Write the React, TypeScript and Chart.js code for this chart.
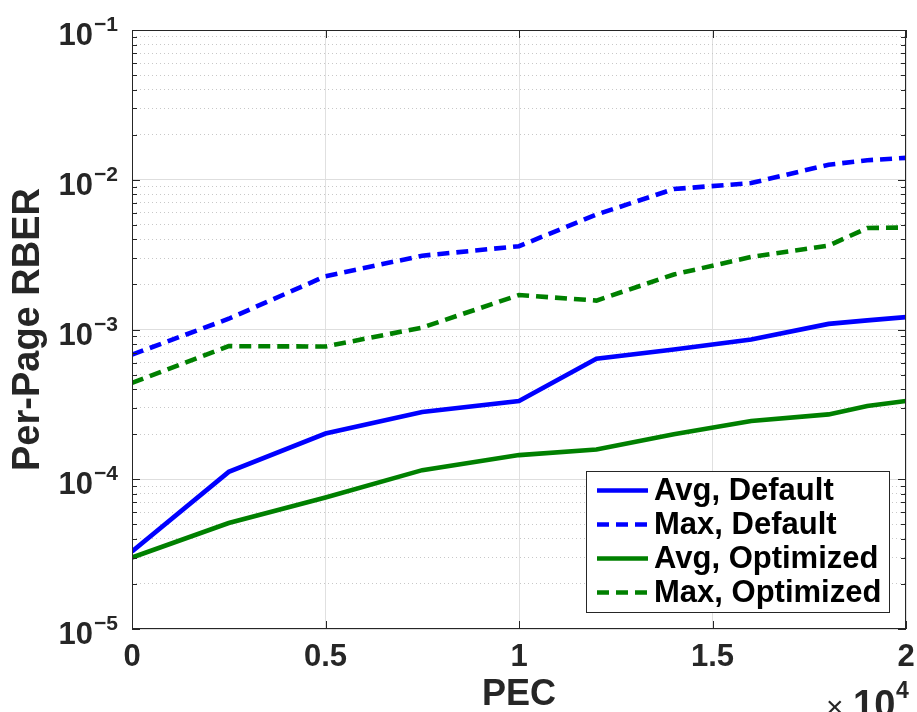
import React, { useEffect, useRef } from 'react';
import { Chart, registerables } from 'chart.js';

Chart.register(...registerables);

// ---- Data ----
const PEC = [0, 2500, 5000, 7500, 10000, 12000, 14000, 16000, 18000, 19000, 20000];
const AVG_DEFAULT = [3.3e-5, 1.12e-4, 2.02e-4, 2.81e-4, 3.33e-4, 6.37e-4, 7.36e-4, 8.58e-4, 1.09e-3, 1.15e-3, 1.21e-3];
const MAX_DEFAULT = [6.8e-4, 1.18e-3, 2.27e-3, 3.11e-3, 3.6e-3, 5.85e-3, 8.67e-3, 9.5e-3, 1.26e-2, 1.35e-2, 1.4e-2];
const AVG_OPTIMIZED = [3.0e-5, 5.1e-5, 7.55e-5, 1.15e-4, 1.45e-4, 1.58e-4, 2.0e-4, 2.45e-4, 2.71e-4, 3.08e-4, 3.33e-4];
const MAX_OPTIMIZED = [4.4e-4, 7.74e-4, 7.7e-4, 1.03e-3, 1.7e-3, 1.56e-3, 2.33e-3, 3.05e-3, 3.63e-3, 4.76e-3, 4.8e-3];

const SERIES_LABELS = ['Avg, Default', 'Max, Default', 'Avg, Optimized', 'Max, Optimized'];

const X_TICKS = [0, 5000, 10000, 15000, 20000];
const X_TICK_LABELS = ['0', '0.5', '1', '1.5', '2'];
const Y_MAJOR = [1e-5, 1e-4, 1e-3, 1e-2, 1e-1];
const Y_EXPONENTS = ['−5', '−4', '−3', '−2', '−1'];
const Y_MINOR_MULTIPLIERS = [2, 3, 4, 5, 6, 7, 8, 9];

const FONT = '"Liberation Sans", Arial, Helvetica, sans-serif';
const TEXT = '#262626';
const BLUE = '#0000ff';
const GREEN = '#008000';
const LINE_W = 4.6;
const DASH = [12, 7];

function isMajorY(v: number) {
  return Y_MAJOR.some((m) => Math.abs(v / m - 1) < 1e-6);
}

const overlayPlugin = {
  id: 'overlay',
  afterDatasetsDraw(chart: any) {
    const { ctx, chartArea: a, scales } = chart;
    const x = scales.x;
    const y = scales.y;
    ctx.save();

    // axes box
    ctx.strokeStyle = TEXT;
    ctx.lineWidth = 1;
    ctx.setLineDash([]);
    ctx.strokeRect(a.left + 0.5, a.top + 0.5, a.right - a.left - 1, a.bottom - a.top - 1);

    // inward tick marks, x
    ctx.beginPath();
    x.ticks.forEach((t: any) => {
      const px = Math.round(x.getPixelForValue(t.value)) + 0.5;
      ctx.moveTo(px, a.bottom);
      ctx.lineTo(px, a.bottom - 8);
      ctx.moveTo(px, a.top);
      ctx.lineTo(px, a.top + 8);
    });
    // inward tick marks, y
    y.ticks.forEach((t: any) => {
      const py = Math.round(y.getPixelForValue(t.value)) + 0.5;
      const len = isMajorY(t.value) ? 8 : 5;
      ctx.moveTo(a.left, py);
      ctx.lineTo(a.left + len, py);
      ctx.moveTo(a.right, py);
      ctx.lineTo(a.right - len, py);
    });
    ctx.stroke();

    // y tick labels 10^n
    ctx.fillStyle = TEXT;
    ctx.textBaseline = 'alphabetic';
    ctx.textAlign = 'right';
    Y_MAJOR.forEach((v, i) => {
      const py = y.getPixelForValue(v);
      const rightEdge = 118;
      ctx.font = `bold 21px ${FONT}`;
      const supW = ctx.measureText(Y_EXPONENTS[i]).width;
      ctx.fillText(Y_EXPONENTS[i], rightEdge, py + 1);
      ctx.font = `bold 31px ${FONT}`;
      ctx.fillText('10', rightEdge - supW - 1, py + 15);
    });

    // x10^4 multiplier
    ctx.textAlign = 'left';
    ctx.font = `30px ${FONT}`;
    ctx.fillText('×', 826, 717);
    ctx.font = `bold 38px ${FONT}`;
    ctx.fillText('10', 853, 717);
    ctx.font = `bold 23px ${FONT}`;
    ctx.fillText('4', 896, 698);

    // legend
    const lx = 586, ly = 471, lw = 303, lh = 141;
    ctx.fillStyle = '#ffffff';
    ctx.fillRect(lx, ly, lw, lh);
    ctx.strokeStyle = TEXT;
    ctx.lineWidth = 1;
    ctx.strokeRect(lx + 0.5, ly + 0.5, lw, lh);
    chart.data.datasets.forEach((ds: any, i: number) => {
      const rowY = 490.5 + i * 34;
      ctx.beginPath();
      ctx.strokeStyle = ds.borderColor;
      ctx.lineWidth = ds.borderWidth;
      ctx.setLineDash(ds.borderDash || []);
      ctx.moveTo(597, rowY);
      ctx.lineTo(648, rowY);
      ctx.stroke();
      ctx.setLineDash([]);
      ctx.fillStyle = '#000000';
      ctx.font = `bold 31px ${FONT}`;
      ctx.textBaseline = 'middle';
      ctx.fillText(ds.label, 654, rowY + 1);
    });

    ctx.restore();
  },
};

export default function App() {
  const ref = useRef<HTMLCanvasElement | null>(null);

  useEffect(() => {
    const canvas = ref.current;
    if (!canvas) return;
    const mk = (vals: number[]) => PEC.map((p, i) => ({ x: p, y: vals[i] }));
    const chart = new Chart(canvas, {
      type: 'line',
      data: {
        datasets: [
          { label: SERIES_LABELS[0], data: mk(AVG_DEFAULT), borderColor: BLUE, borderWidth: LINE_W, borderDash: [], pointRadius: 0, tension: 0, fill: false },
          { label: SERIES_LABELS[1], data: mk(MAX_DEFAULT), borderColor: BLUE, borderWidth: LINE_W, borderDash: DASH, pointRadius: 0, tension: 0, fill: false },
          { label: SERIES_LABELS[2], data: mk(AVG_OPTIMIZED), borderColor: GREEN, borderWidth: LINE_W, borderDash: [], pointRadius: 0, tension: 0, fill: false },
          { label: SERIES_LABELS[3], data: mk(MAX_OPTIMIZED), borderColor: GREEN, borderWidth: LINE_W, borderDash: DASH, pointRadius: 0, tension: 0, fill: false },
        ],
      },
      options: {
        responsive: false,
        animation: false,
        events: [],
        layout: { padding: { left: 0, top: 30, right: 11, bottom: 0 } },
        plugins: { legend: { display: false }, tooltip: { enabled: false } },
        scales: {
          x: {
            type: 'linear',
            min: 0,
            max: 20000,
            afterBuildTicks: (s: any) => {
              s.ticks = X_TICKS.map((v) => ({ value: v }));
            },
            afterFit: (s: any) => {
              s.height = 83;
              s.paddingLeft = 0;
              s.paddingRight = 0;
            },
            ticks: {
              autoSkip: false,
              maxRotation: 0,
              padding: 10,
              color: TEXT,
              font: { family: FONT, size: 31, weight: 'bold' },
              callback: (v: any) => {
                const idx = X_TICKS.indexOf(Number(v));
                return idx >= 0 ? X_TICK_LABELS[idx] : '';
              },
            },
            grid: { color: '#e0e0e0', lineWidth: 1, drawTicks: false },
            border: { display: false },
            title: {
              display: true,
              text: 'PEC',
              color: TEXT,
              font: { family: FONT, size: 36, weight: 'bold', lineHeight: 0.92 },
              padding: { top: 0, bottom: 0 },
            },
          },
          y: {
            type: 'logarithmic',
            min: 1e-5,
            max: 1e-1,
            afterBuildTicks: (s: any) => {
              const t: any[] = [];
              Y_MAJOR.forEach((m, i) => {
                t.push({ value: m, major: true });
                if (i < Y_MAJOR.length - 1) {
                  Y_MINOR_MULTIPLIERS.forEach((k) => t.push({ value: m * k, major: false }));
                }
              });
              s.ticks = t;
            },
            afterFit: (s: any) => {
              s.width = 132;
              s.paddingTop = 0;
              s.paddingBottom = 0;
            },
            ticks: { autoSkip: false, callback: () => '' },
            grid: {
              drawTicks: false,
              lineWidth: 1,
              color: (c: any) => (c.tick && isMajorY(c.tick.value) ? '#dedede' : '#c8c8c8'),
            },
            border: {
              display: false,
              dash: (c: any) => (c.tick && isMajorY(c.tick.value) ? [] : [1, 3]),
            },
            title: {
              display: true,
              text: 'Per-Page RBER',
              color: TEXT,
              font: { family: FONT, size: 38, weight: 'bold', lineHeight: 1.2 },
              padding: { top: 6, bottom: 0 },
            },
          },
        },
      },
      plugins: [overlayPlugin],
    } as any);
    return () => chart.destroy();
  }, []);

  return (
    <div style={{ position: 'absolute', left: 0, top: 0, width: 917, height: 712, background: '#ffffff' }}>
      <canvas ref={ref} width={917} height={712} style={{ width: 917, height: 712, display: 'block' }} />
    </div>
  );
}
